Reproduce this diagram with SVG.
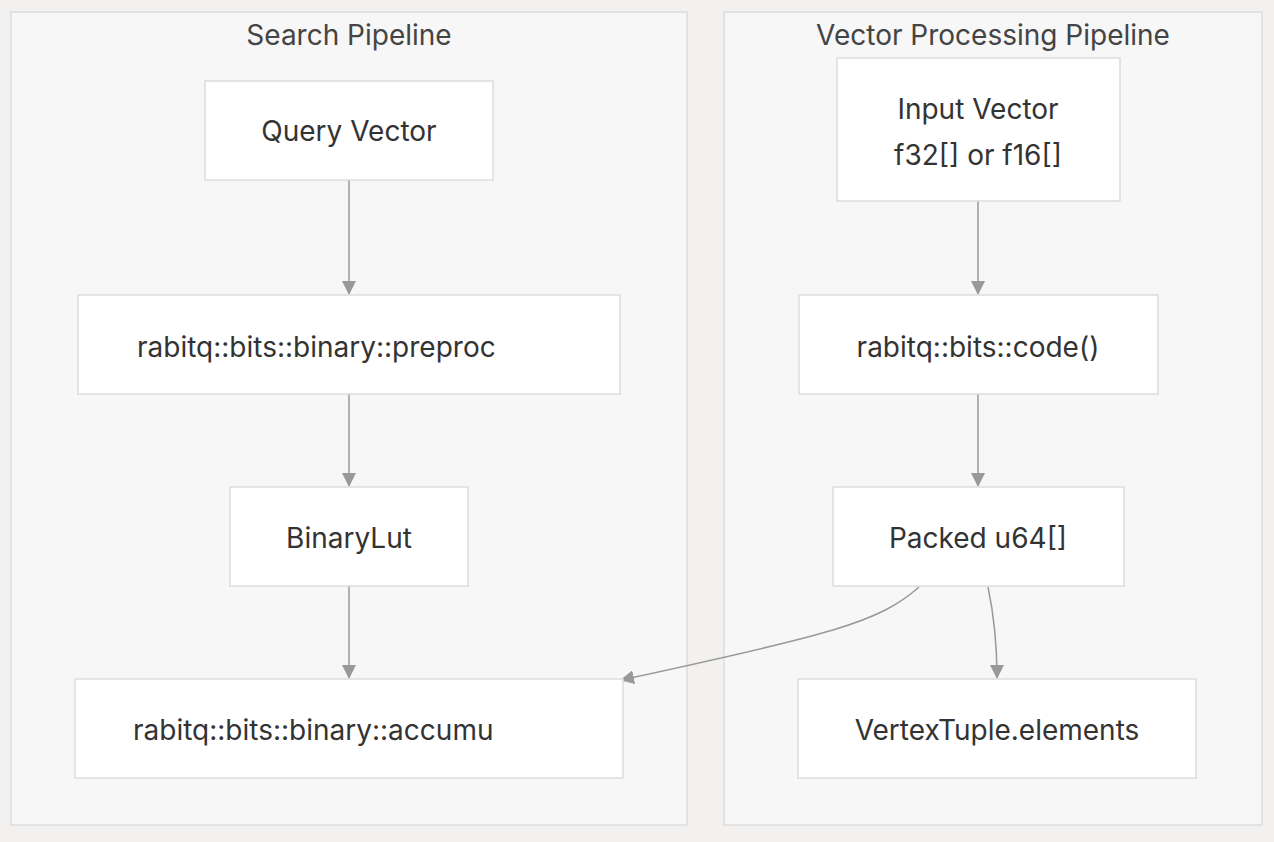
<svg xmlns="http://www.w3.org/2000/svg" width="1274" height="842" viewBox="0 0 1274 842">
<style>
.cluster{fill:#f7f7f7;stroke:#dddddd;stroke-width:1.5}
.node{fill:#ffffff;stroke:#dddddd;stroke-width:1.5}
.t{font-family:Inter,"Open Sans","Liberation Sans",sans-serif;font-size:28px;fill:#333333}
.ct{font-family:Inter,"Open Sans","Liberation Sans",sans-serif;font-size:28px;fill:#444444}
.e{fill:none;stroke:#999999;stroke-width:1.5}
</style>
<defs>
<marker id="arr" viewBox="0 0 14 14" refX="13" refY="7" markerWidth="14" markerHeight="14" markerUnits="userSpaceOnUse" orient="auto">
<path d="M0,0 L14,7 L0,14 z" fill="#999999"/>
</marker>
</defs>
<rect width="1274" height="842" fill="#f2f1f0"/>
<g id="cluster-search">
<rect class="cluster" x="11" y="12" width="676" height="813"/>
<text class="ct" x="349" y="45" text-anchor="middle">Search Pipeline</text>
</g>
<g id="cluster-vector">
<rect class="cluster" x="724" y="12" width="538" height="813"/>
<text class="ct" x="993" y="45" text-anchor="middle">Vector Processing Pipeline</text>
</g>
<g id="edges">
<path class="e" d="M349,180 L349,294" marker-end="url(#arr)"/>
<path class="e" d="M349,394 L349,486" marker-end="url(#arr)"/>
<path class="e" d="M349,586 L349,678" marker-end="url(#arr)"/>
<path class="e" d="M978,201 L978,294" marker-end="url(#arr)"/>
<path class="e" d="M978,394 L978,486" marker-end="url(#arr)"/>
<path class="e" d="M919,587 C880,622 830,635 621,680" marker-end="url(#arr)"/>
<path class="e" d="M988,587 C995,620 997,645 997,678" marker-end="url(#arr)"/>
</g>
<g id="query-vector">
<rect class="node" x="205" y="81" width="288" height="99"/>
<text class="t" x="349" y="141" text-anchor="middle">Query Vector</text>
</g>
<g id="preproc">
<rect class="node" x="78" y="295" width="542" height="99"/>
<text class="t" x="137" y="357">rabitq::bits::binary::preproc</text>
</g>
<g id="binarylut">
<rect class="node" x="230" y="487" width="238" height="99"/>
<text class="t" x="349" y="548" text-anchor="middle">BinaryLut</text>
</g>
<g id="accumu">
<rect class="node" x="75" y="679" width="548" height="99"/>
<text class="t" x="133" y="740">rabitq::bits::binary::accumu</text>
</g>
<g id="input-vector">
<rect class="node" x="837" y="58" width="283" height="143"/>
<text class="t" x="978" y="119" text-anchor="middle">Input Vector</text>
<text class="t" x="978" y="165" text-anchor="middle">f32[] or f16[]</text>
</g>
<g id="code">
<rect class="node" x="799" y="295" width="359" height="99"/>
<text class="t" x="978" y="357" text-anchor="middle">rabitq::bits::code()</text>
</g>
<g id="packed">
<rect class="node" x="833" y="487" width="291" height="99"/>
<text class="t" x="978" y="548" text-anchor="middle">Packed u64[]</text>
</g>
<g id="vertextuple">
<rect class="node" x="798" y="679" width="398" height="99"/>
<text class="t" x="997" y="740" text-anchor="middle">VertexTuple.elements</text>
</g>
</svg>
